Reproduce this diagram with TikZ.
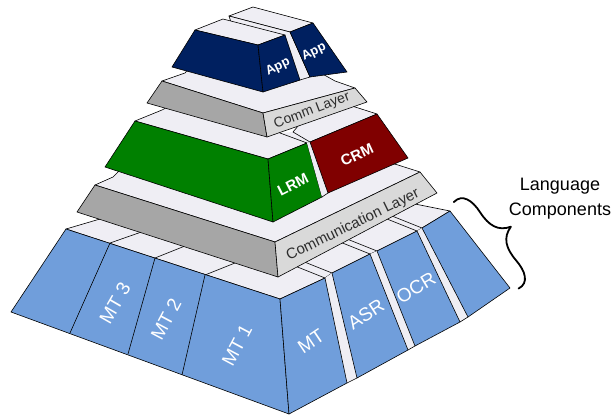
\documentclass[tikz,border=0pt]{standalone}
\usepackage{fontspec}
\setmainfont{Liberation Sans}
\definecolor{topc}{RGB}{239,238,244}
\definecolor{bluec}{RGB}{112,158,219}
\definecolor{navyc}{RGB}{0,32,96}
\definecolor{greenc}{RGB}{0,128,0}
\definecolor{redc}{RGB}{128,0,0}
\definecolor{grayA}{RGB}{166,166,166}
\definecolor{grayB}{RGB}{217,217,217}
\definecolor{textc}{RGB}{45,45,45}
\begin{document}
\begin{tikzpicture}[x=1pt,y=-1pt,
  face/.style={draw=black, line width=0.6pt, line join=round},
  topf/.style={face, fill=topc},
  edge/.style={draw=black, line width=0.6pt},
  lbl/.style={inner sep=0pt, font=\fontsize{19}{22}\selectfont, text=white},
  blbl/.style={inner sep=0pt, font=\bfseries\fontsize{15}{17}\selectfont, text=white},
  glbl/.style={inner sep=0pt, font=\fontsize{15}{17}\selectfont, text=textc}]
\useasboundingbox (0,0) rectangle (614,415);

% ---------- bottom layer ----------
\filldraw[topf] (66,229) -- (100,219) -- (257,173) -- (420,205) -- (450,211) -- (422,228) -- (417,231) -- (377,251) -- (370,254) -- (332,273) -- (325,278) -- (280,299) -- cycle;
\draw[edge] (110,243) -- (150,229);
\draw[edge] (155,258) -- (190,244);
\draw[edge] (205,275) -- (240,261);
\draw[edge] (325,278) -- (285,262);
\draw[edge] (332,273) -- (292,257);
\draw[edge] (370,254) -- (330,238);
\draw[edge] (377,251) -- (337,235);
\draw[edge] (417,231) -- (377,215);
\draw[edge] (422,228) -- (382,212);

\filldraw[face, fill=bluec] (66,229) -- (280,299) -- (289,414) -- (11,312) -- cycle;
\draw[edge] (110,243) -- (70,333);
\draw[edge] (155,258) -- (128,354);
\draw[edge] (205,275) -- (182,375);

\fill[topc] (325,278) -- (332,273) -- (357,378) -- (347,383) -- cycle;
\fill[topc] (370,254) -- (377,251) -- (415,346) -- (408,350) -- cycle;
\fill[topc] (417,231) -- (422,228) -- (468,317) -- (460,322) -- cycle;
\draw[edge] (357,378) -- (347,383);
\draw[edge] (415,346) -- (408,350);
\draw[edge] (468,317) -- (460,322);

\filldraw[face, fill=bluec] (280,299) -- (325,278) -- (347,383) -- (289,414) -- cycle;
\filldraw[face, fill=bluec] (332,273) -- (370,254) -- (408,350) -- (357,378) -- cycle;
\filldraw[face, fill=bluec] (377,251) -- (417,231) -- (460,322) -- (415,346) -- cycle;
\filldraw[face, fill=bluec] (422,228) -- (450,211) -- (510,288) -- (468,317) -- cycle;

\node[lbl, rotate=60] (mt3) at (115,303) {MT 3};
\node[lbl, rotate=62] (mt2) at (166,319) {MT 2};
\node[lbl, rotate=62] (mt1) at (237,345) {MT 1};
\node[lbl, rotate=34] (mt) at (311,341) {MT};
\node[lbl, rotate=33] (asr) at (366,314) {ASR};
\node[lbl, rotate=31] (ocr) at (416,288) {OCR};

% ---------- Communication Layer slab ----------
\filldraw[topf] (95,185) -- (275,242) -- (420,172) -- (398,165) -- (300,140) -- (150,140) -- (113,177) -- cycle;
\filldraw[face, fill=grayA] (95,185) -- (275,242) -- (278,277) -- (77,212) -- cycle;
\filldraw[face, fill=grayB] (275,242) -- (420,172) -- (437,193) -- (278,277) -- cycle;
\node[glbl, rotate=26] (commL) at (353,225) {Communication Layer};

% ---------- LRM / CRM ----------
\fill[topc] (307,143) -- (310,142) -- (293,132) -- (280,133) -- cycle;
\filldraw[topf] (135,121) -- (268,159) -- (307,143) -- (280,133) -- (230,95) -- (190,95) -- (162,110) -- cycle;
\filldraw[topf] (310,142) -- (377,114) -- (352,106) -- (320,100) -- (293,132) -- cycle;
\filldraw[face, fill=greenc] (135,121) -- (268,159) -- (273,222) -- (105,167) -- cycle;
\filldraw[face, fill=greenc] (268,159) -- (307,143) -- (322,197) -- (273,222) -- cycle;
\fill[topc] (307,143) -- (310,142) -- (328,193) -- (322,197) -- cycle;
\draw[edge] (328,193) -- (322,197);
\filldraw[face, fill=redc] (310,142) -- (377,114) -- (408,158) -- (328,193) -- cycle;
\node[blbl, rotate=27] (lrm) at (293,185) {LRM};
\node[blbl, rotate=25] (crm) at (357,155) {CRM};

% ---------- Comm Layer slab ----------
\filldraw[topf] (162,81) -- (263,113) -- (355,88) -- (335,81) -- (280,50) -- (200,55) -- (185,73) -- cycle;
\filldraw[face, fill=grayA] (162,81) -- (263,113) -- (267,137) -- (147,103) -- cycle;
\filldraw[face, fill=grayB] (263,113) -- (355,88) -- (367,102) -- (267,137) -- cycle;
\node[glbl, font=\fontsize{14}{16}\selectfont, rotate=21] (commS) at (312,111) {Comm Layer};

% ---------- App blocks ----------
\filldraw[topf] (229,16) -- (253,7) -- (313,23) -- (290,32) -- cycle;
\filldraw[topf] (229,16) -- (290,32) -- (310,77) -- (290,83) -- (240,50) -- cycle;
\filldraw[face, fill=navyc] (290,32) -- (313,23) -- (347,72) -- (310,77) -- cycle;
\filldraw[topf] (195,30) -- (223,19) -- (285,35) -- (258,45) -- cycle;
\filldraw[face, fill=navyc] (195,30) -- (258,45) -- (263,92) -- (172,67) -- cycle;
\filldraw[face, fill=navyc] (258,45) -- (285,35) -- (300,80) -- (263,92) -- cycle;
\node[blbl, font=\bfseries\fontsize{13}{15}\selectfont, rotate=26] (app1) at (278,67) {App};
\node[blbl, font=\bfseries\fontsize{13}{15}\selectfont, rotate=26] (app2) at (314,52) {App};

% ---------- brace and label ----------
\draw[line width=1.8pt, line cap=round, line join=round]
  (453.8,202.1) .. controls (462.2,193.3) and (472.6,200.5) .. (480.1,212.3)
  .. controls (488.9,225.7) and (498.1,231.3) .. (510.9,226.7)
  .. controls (502.9,237.7) and (505.7,248.1) .. (516.1,260.4)
  .. controls (525.3,271.0) and (529.3,283.0) .. (518.5,288.6);
\node[inner sep=0pt, align=center, font=\fontsize{18}{25}\selectfont] (lang) at (560,199) {Language\\Components};
\end{tikzpicture}
\end{document}
